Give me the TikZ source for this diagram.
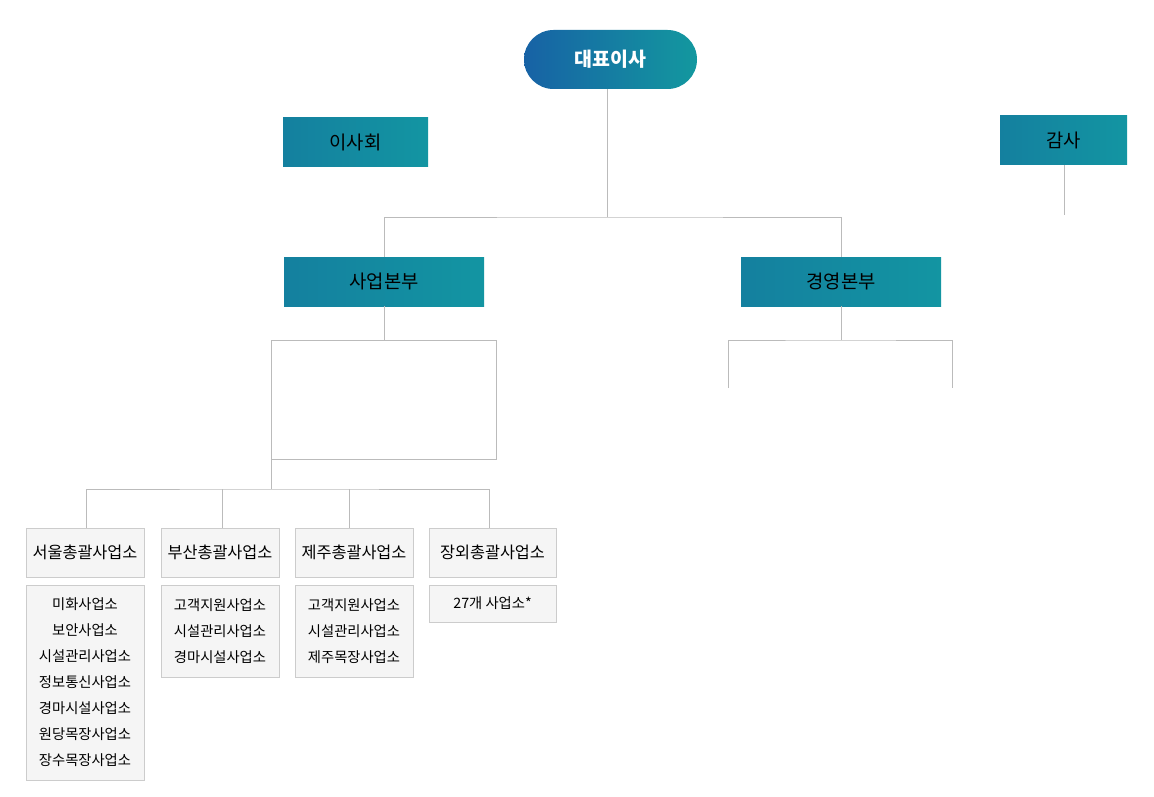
\documentclass[tikz,border=0pt]{standalone}
\usepackage{fontspec}
\setmainfont{Noto Sans CJK KR}
\usetikzlibrary{positioning}
\definecolor{ceoL}{HTML}{1762A5}
\definecolor{ceoR}{HTML}{13989F}
\definecolor{boxL}{HTML}{14809F}
\definecolor{boxR}{HTML}{1395A2}
\definecolor{lineGray}{HTML}{BBBBBB}
\definecolor{edgeGray}{HTML}{CCCCCC}
\definecolor{paleFill}{HTML}{F5F5F5}
\tikzset{
  ceo/.style = {rounded corners=29.5pt, left color=ceoL, right color=ceoR,
    text=white, font=\fontsize{19.5}{22}\selectfont\bfseries,
    minimum width=173pt, minimum height=59pt, inner sep=0pt},
  dept/.style = {left color=boxL, right color=boxR, text=black,
    font=\fontsize{18.8}{21}\selectfont, minimum height=49pt, inner sep=0pt},
  office/.style = {draw=edgeGray, fill=paleFill, font=\fontsize{16.3}{19}\selectfont,
    minimum height=49pt, inner sep=0pt},
  sublist/.style = {draw=edgeGray, fill=paleFill, align=center,
    font=\fontsize{14.3}{26}\selectfont, inner sep=0pt},
  link/.style = {draw=lineGray, line width=1pt}
}
\begin{document}
\begin{tikzpicture}[x=1pt, y=-1pt]
\useasboundingbox (0,0) rectangle (1154,797);
% top level
\node[ceo] (ceo) at (610.5,59.5) {대표이사};
\node[dept, minimum width=145pt] (board) at (355.5,142.5) {이사회};
\node[dept, minimum width=127pt] (audit) at (1063.5,140.5) {감사};
\node[dept, minimum width=200pt] (biz) at (384,281.5) {사업본부};
\node[dept, minimum width=200pt] (mgmt) at (841,281.5) {경영본부};
% offices
\node[office, minimum width=118pt] (seoul) at (85,552.5) {서울총괄사업소};
\node[office, minimum width=118pt] (busan) at (220,552.5) {부산총괄사업소};
\node[office, minimum width=118pt] (jeju) at (354,552.5) {제주총괄사업소};
\node[office, minimum width=127pt] (offtrack) at (492.5,552.5) {장외총괄사업소};
\node[sublist, minimum width=118pt, minimum height=195pt] (seoulSub) at (85,682.5)
  {미화사업소\\보안사업소\\시설관리사업소\\정보통신사업소\\경마시설사업소\\원당목장사업소\\장수목장사업소};
\node[sublist, minimum width=118pt, minimum height=92pt] (busanSub) at (220,631)
  {고객지원사업소\\시설관리사업소\\경마시설사업소};
\node[sublist, minimum width=118pt, minimum height=92pt] (jejuSub) at (354,631)
  {고객지원사업소\\시설관리사업소\\제주목장사업소};
\node[sublist, minimum width=127pt, minimum height=37pt] (offtrackSub) at (492.5,603.5)
  {27개 사업소*};
% connectors
\coordinate (ceoDrop) at (607,217);
\coordinate (auditEnd) at (1064,215);
\coordinate (bizBoxTL) at (271,340);
\coordinate (bizBoxBR) at (496,459);
\coordinate (bizBus) at (271,489);
\coordinate (mgmtL) at (728,388);
\coordinate (mgmtR) at (952,388);
\draw[link] (ceo.south -| ceoDrop) -- (ceoDrop);
\draw[link] (biz.north) |- (ceoDrop) -| (mgmt.north);
\draw[link] (audit.south -| auditEnd) -- (auditEnd);
\draw[link] (biz.south) -- (biz.south |- bizBoxTL);
\draw[link] (bizBoxTL) rectangle (bizBoxBR);
\draw[link] (bizBoxTL |- bizBoxBR) -- (bizBus);
\draw[link] (seoul.north -| 86,0) |- (bizBus) -| (offtrack.north -| 489,0);
\draw[link] (busan.north -| 222,0) -- (222,489);
\draw[link] (jeju.north -| 349,0) -- (349,489);
\draw[link] (mgmt.south) -- (mgmt.south |- 0,340);
\draw[link] (mgmtL) |- (mgmt.south |- 0,340) -| (mgmtR);
\end{tikzpicture}
\end{document}
